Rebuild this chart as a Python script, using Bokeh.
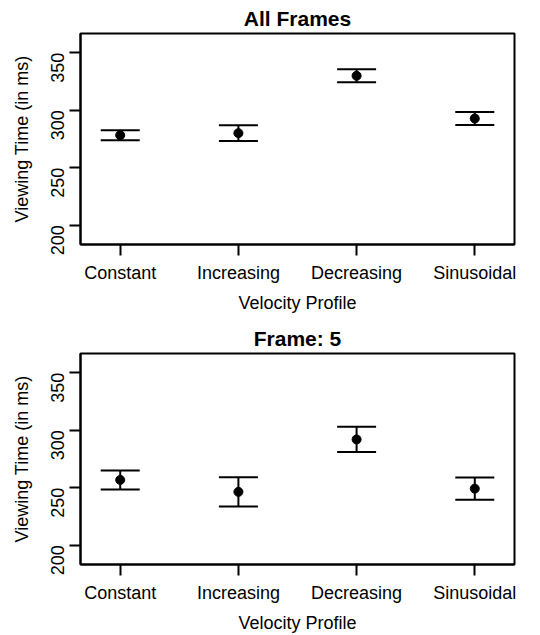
import math
from bokeh.plotting import figure
from bokeh.models import Range1d, FixedTicker, ColumnDataSource, Whisker, TeeHead
from bokeh.layouts import column
from bokeh.embed import file_html
from bokeh.resources import INLINE

categories = ["Constant", "Increasing", "Decreasing", "Sinusoidal"]
all_mean = [278.3, 280.1, 330.0, 292.8]
all_err = [4.3, 6.8, 5.6, 5.6]
f5_mean = [256.8, 246.4, 292.0, 249.2]
f5_err = [8.3, 12.7, 11.0, 9.6]
y_ticks = [200, 250, 300, 350]
y_lim = (190, 360)
x_lim = (0.8, 4.2)

FONT = "Liberation Sans"


def ext(lo, hi):
    pad = 0.04 * (hi - lo)
    return lo - pad, hi + pad


def make_panel(title, means, errs, bottom):
    xs = list(range(1, len(categories) + 1))
    xr = ext(*x_lim)
    yr = ext(*y_lim)
    p = figure(output_backend="svg", toolbar_location=None,
               x_range=Range1d(*xr), y_range=Range1d(*yr),
               frame_width=434, frame_height=211,
               min_border_left=80, min_border_right=10, min_border_top=10,
               min_border_bottom=bottom)
    p.title.text = title
    p.title.align = "center"
    p.title.text_font = FONT
    p.title.text_font_size = "21px"
    p.title.text_font_style = "bold"
    p.title.text_color = "black"
    p.title.offset = 0
    p.title.standoff = 8
    p.xgrid.visible = False
    p.ygrid.visible = False
    p.outline_line_color = "black"
    p.outline_line_width = 2
    p.outline_line_alpha = 1
    p.background_fill_color = "white"
    p.border_fill_color = "white"

    p.xaxis.ticker = FixedTicker(ticks=xs)
    p.xaxis.major_label_overrides = {x: c for x, c in zip(xs, categories)}
    p.yaxis.ticker = FixedTicker(ticks=y_ticks)
    for ax in (p.xaxis, p.yaxis):
        ax.axis_line_color = "black"
        ax.axis_line_width = 2
        ax.major_tick_line_color = "black"
        ax.major_tick_line_width = 2
        ax.major_tick_out = 11
        ax.major_tick_in = 0
        ax.minor_tick_line_color = None
        ax.major_label_text_font = FONT
        ax.major_label_text_font_size = "18px"
        ax.major_label_text_color = "black"
        ax.axis_label_text_font = FONT
        ax.axis_label_text_font_size = "18px"
        ax.axis_label_text_font_style = "normal"
        ax.axis_label_text_color = "black"
    p.xaxis.axis_label = "Velocity Profile"
    p.yaxis.axis_label = "Viewing Time (in ms)"
    p.xaxis.major_label_standoff = 7
    p.xaxis.axis_label_standoff = 7
    p.yaxis.major_label_orientation = math.pi / 2
    p.yaxis.major_label_standoff = 12
    p.yaxis.axis_label_standoff = 10

    src = ColumnDataSource(dict(
        x=xs, m=means,
        lo=[m - e for m, e in zip(means, errs)],
        hi=[m + e for m, e in zip(means, errs)],
    ))
    w = Whisker(source=src, base="x", lower="lo", upper="hi", dimension="height",
                line_color="black", line_width=2,
                lower_head=TeeHead(size=39, line_color="black", line_width=2),
                upper_head=TeeHead(size=39, line_color="black", line_width=2))
    p.add_layout(w)
    p.scatter("x", "m", source=src, size=9, color="black", marker="circle")
    return p


p1 = make_panel("All Frames", all_mean, all_err, 76)
p2 = make_panel("Frame: 5", f5_mean, f5_err, 70)
layout = column(p1, p2, spacing=0)

open("out.html", "w").write(file_html(layout, INLINE))
